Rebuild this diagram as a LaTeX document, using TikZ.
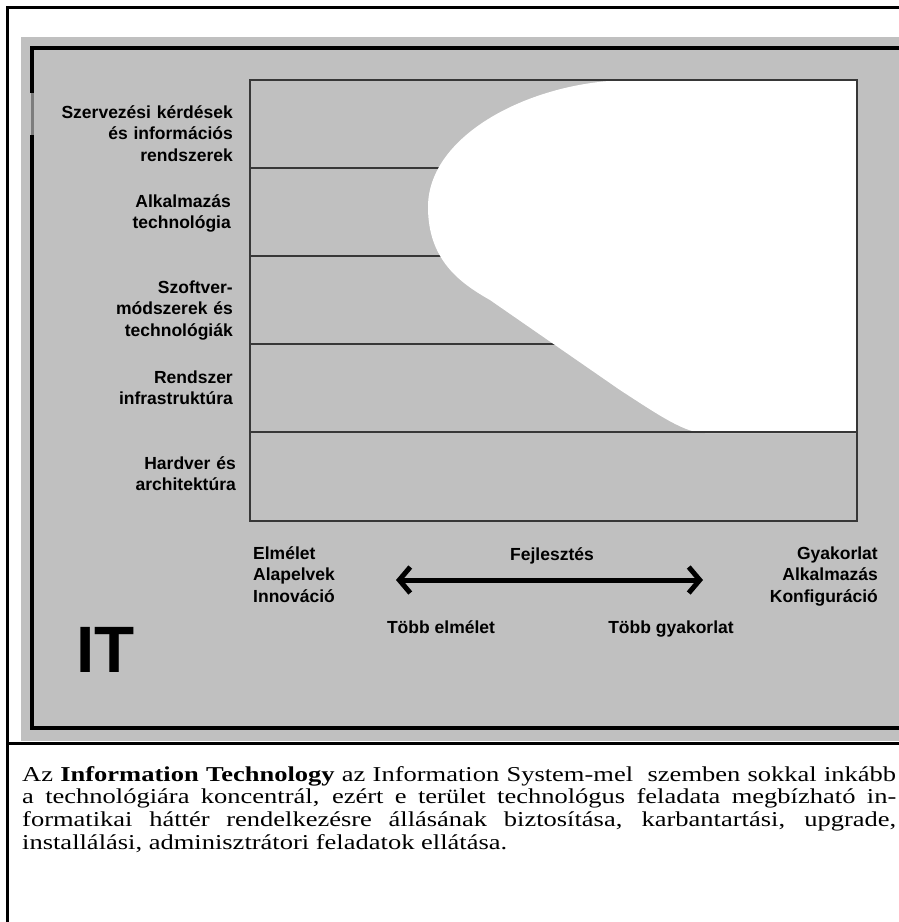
\documentclass[tikz,border=0pt]{standalone}
\usepackage{fontspec}
\usepackage{graphicx}
\setmainfont{Liberation Serif}
\newfontfamily\labelfont{Liberation Sans}
\usetikzlibrary{arrows.meta}
\definecolor{panelgray}{RGB}{192,192,192}
\definecolor{rulegray}{RGB}{55,55,55}
\definecolor{gapgray}{RGB}{125,125,125}
\tikzset{
  axislabel/.style={font={\labelfont\bfseries\fontsize{17.5}{21.5}\selectfont}, inner sep=0, text width=200pt},
  leftlabel/.style={axislabel, align=right, anchor=base east},
  startlabel/.style={axislabel, align=left, anchor=base west},
  arrowlabel/.style={font={\labelfont\bfseries\fontsize{17.5}{21.5}\selectfont}, inner sep=0, anchor=base},
  band/.style={rulegray, line width=1.4pt},
  devarrow/.style={line width=5pt, {Straight Barb[length=11pt,width=26pt]}-{Straight Barb[length=11pt,width=26pt]}}
}
\begin{document}
\begin{tikzpicture}[x=1pt, y=-1pt]
\useasboundingbox (0,0) rectangle (899,922);
% panel and frames
\fill[panelgray] (21,37) rectangle (899,741);
\draw[line width=3pt] (7,922) -- (7,7) -- (899,7);
\draw[line width=3pt] (7,743) -- (899,743);
\draw[line width=3.5pt] (899,48) -- (32,48) -- (32,93);
\draw[line width=3pt, gapgray] (32,93) -- (32,135);
\draw[line width=3.5pt] (32,135) -- (32,728) -- (899,728);

% bands
\foreach \y in {168,256,344}
  \draw[band] (250,\y) -- (857,\y);
\fill[white] (857,80) -- (627,80) .. controls (530,82) and (428,135) .. (428,207)
  .. controls (428,260) and (460,283) .. (490,300) -- (620,390)
  .. controls (660,416) and (685,433) .. (705,433) -- (857,433) -- cycle;
\draw[band] (250,432) -- (857,432);
\draw[band] (250,80) rectangle (857,521);

\node[leftlabel] (org) at (233,118) {Szervezési kérdések\\és információs\\rendszerek};
\node[leftlabel] (app) at (231,207) {Alkalmazás\\technológia};
\node[leftlabel] (sw) at (233,293) {Szoftver-\\módszerek és\\technológiák};
\node[leftlabel] (infra) at (233,383) {Rendszer\\infrastruktúra};
\node[leftlabel] (hw) at (236,469) {Hardver és\\architektúra};

% axis below
\node[startlabel] (theory) at (253,559) {Elmélet\\Alapelvek\\Innováció};
\node[leftlabel] (practice) at (878,559) {Gyakorlat\\Alkalmazás\\Konfiguráció};
\node[arrowlabel] (dev) at (552,560) {Fejlesztés};
\coordinate (from) at (396,580);
\coordinate (to) at (703,580);
\draw[devarrow] (from) -- (to);
\node[arrowlabel] (moretheory) at (441,633) {Több elmélet};
\node[arrowlabel] (morepractice) at (671,633) {Több gyakorlat};

\node[font={\labelfont\bfseries\fontsize{65.6}{70}\selectfont}, inner sep=0, anchor=base west] (it) at (76,672) {IT};

\node[inner sep=0, anchor=base west] (desc) at (22,781)
  {\scalebox{1.25}[1]{\parbox[t]{699.2pt}{\fontsize{21.2}{22.8}\selectfont\hyphenpenalty=10000
   Az \textbf{Information Technology} az Information System-mel\ \ szemben sokkal inkább\linebreak
   a technológiára koncentrál, ezért e terület technológus feladata megbízható in-\linebreak
   formatikai háttér rendelkezésre állásának biztosítása, karbantartási, upgrade,\linebreak
   installálási, adminisztrátori feladatok ellátása.}}};
\end{tikzpicture}
\end{document}
